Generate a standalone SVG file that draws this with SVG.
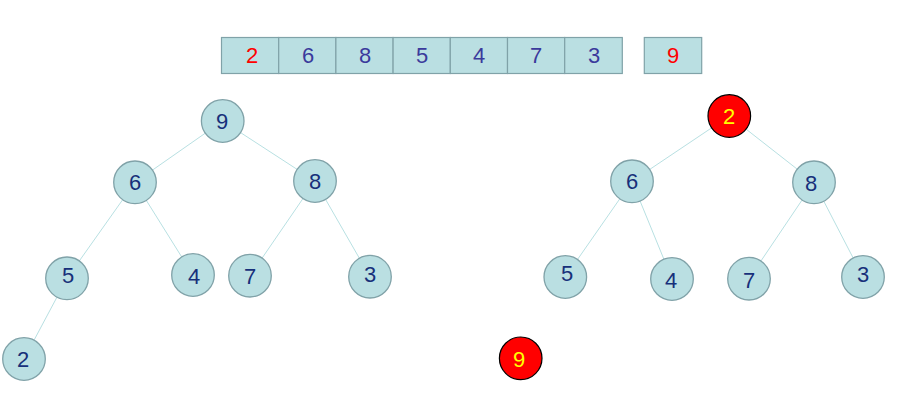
<svg xmlns="http://www.w3.org/2000/svg" width="903" height="406" viewBox="0 0 903 406">
<style>
.cell{fill:#badfe2;stroke:#80a2a8;stroke-width:1.2}
.ct{font-family:"Liberation Sans",Arial,sans-serif;font-size:22px;fill:#3a3a9c;text-anchor:middle}
.red{fill:#ff0000}
.nd{fill:#badfe2;stroke:#80a2a8;stroke-width:1.3}
.hot{fill:#ff0000;stroke:#000;stroke-width:1.2}
.nt{font-family:"Liberation Sans",Arial,sans-serif;font-size:22px;fill:#17307a;text-anchor:middle}
.yt{fill:#ffff00}
.edge{stroke:#b8e0e2;stroke-width:1;fill:none}
</style>
<g id="array">
<rect class="cell" x="221.5" y="37.5" width="57.2" height="36"/>
<rect class="cell" x="278.7" y="37.5" width="57.2" height="36"/>
<rect class="cell" x="335.9" y="37.5" width="57.2" height="36"/>
<rect class="cell" x="393.1" y="37.5" width="57.2" height="36"/>
<rect class="cell" x="450.3" y="37.5" width="57.2" height="36"/>
<rect class="cell" x="507.5" y="37.5" width="57.2" height="36"/>
<rect class="cell" x="564.7" y="37.5" width="57.6" height="36"/>
<rect class="cell" x="644.3" y="37.5" width="57.4" height="36"/>
<text class="ct red" x="252" y="63">2</text>
<text class="ct" x="308" y="63">6</text>
<text class="ct" x="365" y="63">8</text>
<text class="ct" x="422" y="63">5</text>
<text class="ct" x="479" y="63">4</text>
<text class="ct" x="536" y="63">7</text>
<text class="ct" x="594" y="63">3</text>
<text class="ct red" x="673" y="63">9</text>
</g>
<g id="connectors">
<line class="edge" x1="222.7" y1="121" x2="135" y2="182.3"/>
<line class="edge" x1="222.7" y1="121" x2="315" y2="181"/>
<line class="edge" x1="135" y1="182.3" x2="67" y2="278.3"/>
<line class="edge" x1="135" y1="182.3" x2="193" y2="275"/>
<line class="edge" x1="315" y1="181" x2="250" y2="275.7"/>
<line class="edge" x1="315" y1="181" x2="370" y2="276.7"/>
<line class="edge" x1="67" y1="278.3" x2="24" y2="359"/>
<line class="edge" x1="729.3" y1="116" x2="632" y2="181.3"/>
<line class="edge" x1="729.3" y1="116" x2="814" y2="182.3"/>
<line class="edge" x1="632" y1="181.3" x2="565.3" y2="277"/>
<line class="edge" x1="632" y1="181.3" x2="672" y2="279"/>
<line class="edge" x1="814" y1="182.3" x2="749" y2="278.7"/>
<line class="edge" x1="814" y1="182.3" x2="863" y2="277"/>
</g>
<g id="L9"><circle class="nd" cx="222.7" cy="121" r="21.3"/><text class="nt" x="222" y="129">9</text></g>
<g id="L6"><circle class="nd" cx="135" cy="182.3" r="21.3"/><text class="nt" x="135" y="190">6</text></g>
<g id="L8"><circle class="nd" cx="315" cy="181" r="21.3"/><text class="nt" x="315" y="189">8</text></g>
<g id="L5"><circle class="nd" cx="67" cy="278.3" r="21.3"/><text class="nt" x="68" y="283">5</text></g>
<g id="L4"><circle class="nd" cx="193" cy="275" r="21.3"/><text class="nt" x="194" y="284">4</text></g>
<g id="L7"><circle class="nd" cx="250" cy="275.7" r="21.3"/><text class="nt" x="250" y="284">7</text></g>
<g id="L3"><circle class="nd" cx="370" cy="276.7" r="21.3"/><text class="nt" x="370" y="282">3</text></g>
<g id="L2"><circle class="nd" cx="24" cy="359" r="21.3"/><text class="nt" x="23" y="367">2</text></g>
<g id="R2"><circle class="hot" cx="729.3" cy="116" r="21.3"/><text class="nt yt" x="729" y="124">2</text></g>
<g id="R6"><circle class="nd" cx="632" cy="181.3" r="21.3"/><text class="nt" x="632" y="189">6</text></g>
<g id="R8"><circle class="nd" cx="814" cy="182.3" r="21.3"/><text class="nt" x="811" y="191">8</text></g>
<g id="R5"><circle class="nd" cx="565.3" cy="277" r="21.3"/><text class="nt" x="567" y="281">5</text></g>
<g id="R4"><circle class="nd" cx="672" cy="279" r="21.3"/><text class="nt" x="671" y="288">4</text></g>
<g id="R7"><circle class="nd" cx="749" cy="278.7" r="21.3"/><text class="nt" x="749" y="288">7</text></g>
<g id="R3"><circle class="nd" cx="863" cy="277" r="21.3"/><text class="nt" x="863" y="282">3</text></g>
<g id="R9"><circle class="hot" cx="520.7" cy="358.3" r="21.3"/><text class="nt yt" x="519" y="367">9</text></g>
</svg>
